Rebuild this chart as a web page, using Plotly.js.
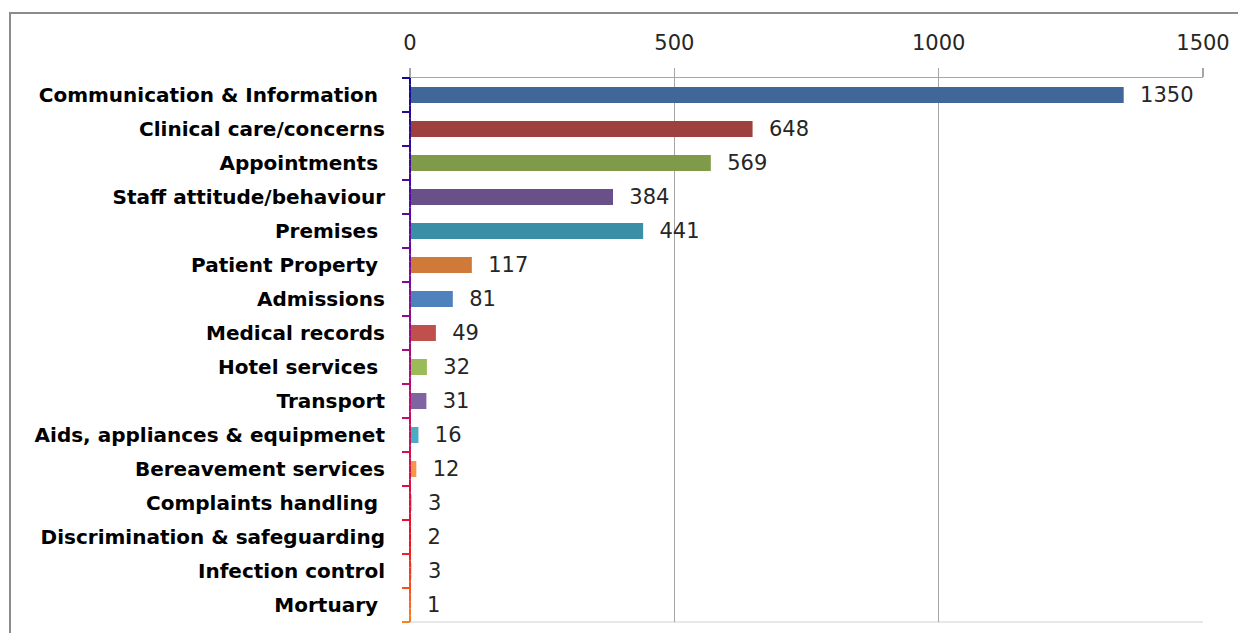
<!DOCTYPE html>
<html>
<head>
<meta charset="utf-8">
<script src="https://cdn.plot.ly/plotly-3.0.1.min.js"></script>
<style>
  html, body { margin:0; padding:0; background:#fff; overflow:hidden; }
  #chart { position:absolute; left:0; top:0; width:1238px; height:633px; }
  #frame { position:absolute; left:9px; top:12px; width:1300px; height:700px;
           border:2px solid #8c8c8c; box-sizing:border-box; pointer-events:none; }
</style>
</head>
<body>
<div id="chart"></div>
<div id="frame"></div>
<script>
const categories = [
  'Communication & Information ', 'Clinical care/concerns', 'Appointments ',
  'Staff attitude/behaviour', 'Premises ', 'Patient Property ', 'Admissions',
  'Medical records', 'Hotel services ', 'Transport', 'Aids, appliances & equipmenet',
  'Bereavement services', 'Complaints handling ', 'Discrimination & safeguarding',
  'Infection control', 'Mortuary '
];
const values = [1350, 648, 569, 384, 441, 117, 81, 49, 32, 31, 16, 12, 3, 2, 3, 1];
const barColors = [
  '#3F6898', '#9E413E', '#7F9B4A', '#6A5088', '#3A8EA5', '#D07A3A',
  '#4F81BD', '#C0504D', '#9BBB59', '#8064A2', '#4BACC6', '#F79646',
  '#95B3D7', '#D99694', '#C3D69B', '#B3A2C7'
];
const xTicks = [0, 500, 1000, 1500];

const labels = categories.map(c => c.replace(/ $/, '\u00A0'));

const numFont = '"DejaVu Sans", Verdana, sans-serif';

const trace = {
  type: 'bar',
  orientation: 'h',
  y: labels,
  x: values,
  marker: { color: barColors, line: { width: 0 } },
  text: values.map(v => '\u00A0\u00A0' + v),
  textposition: 'outside',
  constraintext: 'none',
  textfont: { family: numFont, size: 21, color: '#262626' },
  cliponaxis: false,
  hoverinfo: 'x+y'
};

// gradient axis line (navy -> purple -> magenta -> red -> orange)
const stops = [
  [0.00, [20, 10, 140]],
  [0.30, [105, 10, 160]],
  [0.60, [190, 15, 110]],
  [0.85, [240, 15, 35]],
  [1.00, [245, 130, 30]]
];
function colorAt(t) {
  for (let i = 0; i < stops.length - 1; i++) {
    const [t0, c0] = stops[i], [t1, c1] = stops[i + 1];
    if (t >= t0 && t <= t1) {
      const f = (t - t0) / (t1 - t0);
      const c = c0.map((v, k) => Math.round(v + (c1[k] - v) * f));
      return 'rgb(' + c.join(',') + ')';
    }
  }
  return 'rgb(245,130,30)';
}
const shapes = [];
const N = 80;
for (let i = 0; i < N; i++) {
  const t0 = i / N, t1 = (i + 1) / N;
  shapes.push({
    type: 'line', xref: 'paper', yref: 'paper',
    x0: 0, x1: 0, y0: 1 - t0, y1: 1 - t1,
    line: { color: colorAt((t0 + t1) / 2), width: 2 }, layer: 'above'
  });
}
const n = categories.length;
for (let i = 0; i <= n; i++) {
  shapes.push({
    type: 'line', xref: 'paper', yref: 'paper', xsizemode: 'pixel', xanchor: 0,
    x0: -8, x1: 0, y0: 1 - i / n, y1: 1 - i / n,
    line: { color: colorAt(i / n), width: 2 }, layer: 'above'
  });
}
// bottom plot border
shapes.push({
  type: 'line', xref: 'paper', yref: 'paper', x0: 0, x1: 1, y0: 0, y1: 0,
  line: { color: '#d0d0d0', width: 1 }, layer: 'below'
});

const layout = {
  width: 1238, height: 633,
  margin: { l: 410, r: 35, t: 78, b: 11, pad: 0 },
  paper_bgcolor: 'rgba(0,0,0,0)',
  plot_bgcolor: 'rgba(0,0,0,0)',
  showlegend: false,
  bargap: 0.53,
  xaxis: {
    side: 'top',
    range: [0, 1500],
    tickvals: xTicks,
    ticktext: xTicks.map(String),
    showgrid: true, gridcolor: '#a6a6a6', gridwidth: 1.3,
    zeroline: false,
    showline: true, linecolor: '#a6a6a6', linewidth: 1.3,
    ticks: 'outside', ticklen: 9, tickcolor: '#a6a6a6', tickwidth: 1.3,
    tickfont: { family: numFont, size: 21, color: '#262626' },
    ticklabelstandoff: 9,
    fixedrange: true
  },
  yaxis: {
    type: 'category',
    autorange: 'reversed',
    showgrid: false, zeroline: false, showline: false,
    ticks: '',
    ticklabelstandoff: 24,
    tickfont: { family: '"DejaVu Sans", sans-serif', size: 20, color: '#000', weight: 'bold' },
    fixedrange: true
  },
  shapes: shapes
};

Plotly.newPlot('chart', [trace], layout, { displayModeBar: false, staticPlot: true });
</script>
</body>
</html>
